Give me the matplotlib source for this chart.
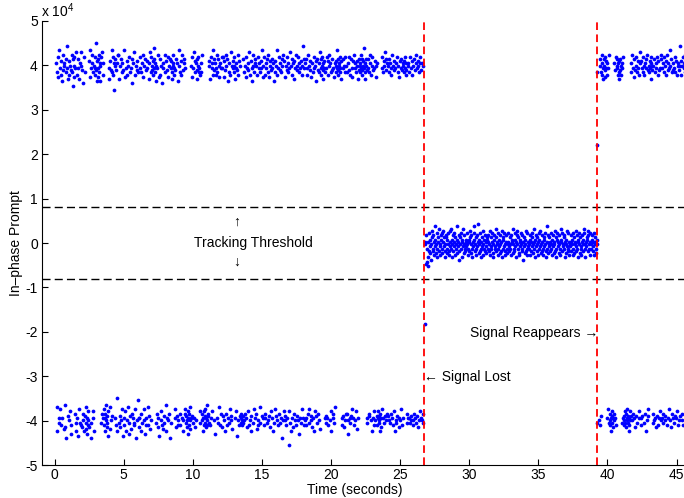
import numpy as np
import matplotlib
matplotlib.use("Agg")
import matplotlib.pyplot as plt

plt.rcParams["font.family"] = ["Liberation Sans", "DejaVu Sans"]
plt.rcParams["font.size"] = 10
plt.rcParams["axes.unicode_minus"] = False
plt.rcParams["mathtext.default"] = "regular"
plt.rcParams["lines.scale_dashes"] = False

# ==========================================
# PROMPT CORRELATOR SAMPLES
# one character per 30 ms sample:
#   lowercase -> +bit, uppercase -> -bit, letter -> noise level
# ==========================================
SAMPLE_DT = 0.03
LEVEL_STEP = 500.0
BIT_LEVEL = 39700.0

# locked, nav bits visible at +/-4e4
TRACK_START = 0.1
TRACK_CODE = (
    "oHkSriNLumRjKpgNlsIonTJqkEmwOhMpjQnGlKskqenriPmHtL"
    "jNqFmRhLoKntJlPfMrHkOISLNGQKMpJiuLmEosNkQnHrjmxlpg"
    "qimskognrLtPjNoKRNHPMTJOLFQmhIpSlMukOrjocnNqKlWoHs"
    "sLhOnJqMkRoFlNuKiQmHpMjSnGrLkOmIqPfNoKtLjRnEpMlVkN"
    "NJrmPHkoLsiMRnqGNlKpmSKhoOtIMkrnljpmvqkongLPmJsNiF"
    "qjMQnKfoImOLskTpHNlrMiPnEqLmpkhonsmjRNlqJOogMKnuPk"
    "KpjNsMlHoqPRmLOJMQNGKPMSINnrOimLtNkpJMoqlhnrkmQLjo"
    "ksMPHNKQOLRJNMTKOPLnpKhrNmoQjuMlqGojmskNLqnSioKmPr"
    "mJrOiMplHsPnKqgNLokRjMtOnImpkrnhNoQmlFMsjKpOnLNPKM"
    "OLqMkPniNrmJQolKtjMpHOmgLsnRkNoqPnIjrMKomSkLpmOuNi"
    "nKrNjPomLqMksOiJpnQlNmqHoLgRkpOnjMuKmrPlLoNkqEnMsQ"
    "pMiOnKrlNokQBmtLnHqjNoJpPhmMsKnlOrMkoGNmLpjRnNwmKq"
    "MoKqNmjPsLnRlpMOioJkNrHmnQpgOqLlPokMtImqjnrlohpmkN"
    "OmLrNjpKnsMoQkHqlNmPiLoSnpkmuljqonrkmhpNKmOqJnrMkP"
    "nPkMGorlNjLqOmRiNpKsmMoQknIphNqlnoksmqjlpnmvkohnql"
    "NLqmPkOosMjnHrNlQmKpMniOoKNQLMOHPNJRmrNkpLntOlMqPo"
    "OnkMqLomPjNsKnQlpHmMoLrOknNiJpMmRqKloNnkpmrjolLPnN"
    "oNkLrMmOjpKnMqPlNsoLmOpJnMkQorNlMoLnP"
)

# carrier lost, prompt collapses to noise around zero
LOST_START = 26.8
LOST_CODE = (
    "nmdqkecgnjroilfmpsjkqhnlouimrgkpnjtlmhqokrisnlpgjm"
    "pqkiormjhlnstkgmoqjnlrhpkmuiolnjqfmpkrongltimqkjon"
    "lmrhkonjpsimqgklnruojmhpkqlnvimorjkgnplsmhkoqjnlip"
    "oknqjmshlpkrnimgoqlkjptnmhrkolqimjnsgpkolrmjhnqikm"
    "nrjlmpkhqonimtkjrolgnmqskpihlnomrjkqfnlpmiosjkhrnl"
    "kmoqhnjrlpmikntgolqmjphnrkolsimjnqkhpolmrgjnkuqiml"
    "pnjkrmhoqlinmsjkgpronlmqikhtnojrlmkpqgnimosljkrhnm"
    "ljqnmokrhpimnljsqkgonrmpihklnqomjrtkmglnposjqkmhnr"
    "mkoqjlnrhpmnikom"
)

# reacquired
REACQ_START = 39.4
REACQ_CODE = (
    "MqKnOkosjmhqnlrimpoNjRmLsMKPNHOQLNJMoPlNrKnmqjokhp"
    "lqnjomLrNMOKQLPJNRMOLHNKQMOokMsPmiNqlJnrOkLpmQjNot"
    "NpKmOrkLnjPoHqmMslORnkpmhronlLPnMqkNoJmrOjKpNlQmsM"
    "qNmLoPkrMnOjpKsNloRmMnuJqkPNolLmrOkpNjQnKolMwnOpjP"
    "nMrKmoPksLqNlOx"
)

# samples caught right on the loss / reacquisition edges
EDGE_T = [26.78, 39.27, 39.27, 39.27]
EDGE_Y = [-18200, 22000, 38600, -40500]

THRESHOLD = 8000
LOSS_TIME = 26.75
REACQ_TIME = 39.25


def decode(code, t0, centred=False):
    t = t0 + SAMPLE_DT * np.arange(len(code))
    y = []
    for ch in code:
        noise = (ord(ch.lower()) - ord("a") - 12.5) * LEVEL_STEP
        if centred:
            base = 0.0
        elif ch.islower():
            base = BIT_LEVEL
        else:
            base = -BIT_LEVEL
        y.append(base + noise)
    return t, np.array(y)


t1, y1 = decode(TRACK_CODE, TRACK_START)
t2, y2 = decode(LOST_CODE, LOST_START, centred=True)
t3, y3 = decode(REACQ_CODE, REACQ_START)

fig = plt.figure(figsize=(6.84, 4.98), dpi=100)
ax = fig.add_axes([42 / 684, 33 / 498, 1 - 42 / 684, 444 / 498])

dot = dict(linestyle="none", marker="o", markersize=2.7, markeredgewidth=0, color="b")
for t, y in [(t1, y1), (t2, y2), (t3, y3), (EDGE_T, EDGE_Y)]:
    ax.plot(t, y, **dot)

# tracking threshold and loss / reacquisition markers
for level in (THRESHOLD, -THRESHOLD):
    ax.axhline(level, color="k", lw=1.0, ls=(0, (5.8, 3.0)))
for tm in (LOSS_TIME, REACQ_TIME):
    ax.axvline(tm, color="r", lw=1.3, ls=(0, (5.5, 3.2)))

ax.text(13.2, 4700, "\u2191", ha="center", va="center")
ax.text(14.4, 0, "Tracking Threshold", ha="center", va="center")
ax.text(13.2, -4300, "\u2193", ha="center", va="center")
ax.text(26.72, -30200, "\u2190 Signal Lost", ha="left", va="center")
ax.text(39.3, -20300, "Signal Reappears \u2192", ha="right", va="center")

ax.set_xlim(-0.92, 45.54)
ax.set_ylim(-50000, 50000)
ax.set_xticks(np.arange(0, 46, 5))
ax.set_yticks(np.arange(-5, 6) * 10000)
ax.set_yticklabels([str(v) for v in range(-5, 6)])
ax.tick_params(direction="in", length=4, width=0.8, pad=3)
ax.tick_params(axis="x", pad=2.5)
ax.spines["top"].set_visible(False)
ax.spines["right"].set_visible(False)
ax.spines["left"].set_linewidth(0.8)
ax.spines["bottom"].set_linewidth(0.8)

ax.set_xlabel("Time (seconds)")
ax.xaxis.set_label_coords(0.487, -0.041)
ax.set_ylabel("In\u2013phase Prompt")
ax.yaxis.set_label_coords(-0.03, 0.5)
fig.text(41 / 684, 1 - 17.5 / 498, "x 10$^{4}$", va="baseline", ha="left")

fig.savefig("out.png", dpi=100)
